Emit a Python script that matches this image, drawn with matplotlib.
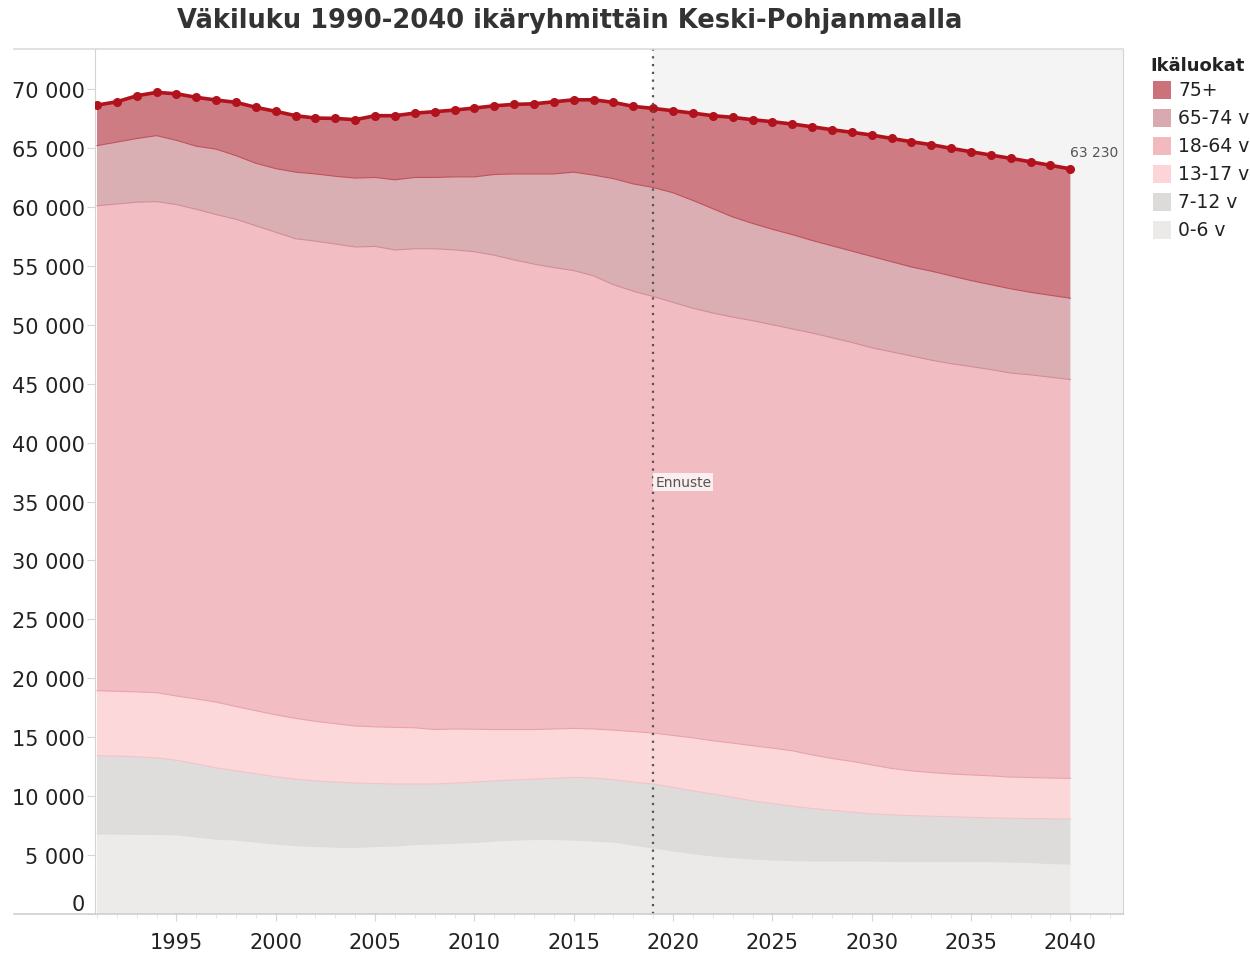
import matplotlib.pyplot as plt
import numpy as np
from matplotlib.patches import Rectangle
from matplotlib.lines import Line2D
from matplotlib.ticker import MultipleLocator

# data
years = list(range(1991, 2041))
age_0_6 = [6790, 6780, 6760, 6750, 6730, 6530, 6360, 6280, 6110, 5940,
           5810, 5730, 5680, 5640, 5730, 5770, 5900, 5940, 6020, 6070,
           6190, 6280, 6320, 6320, 6280, 6190, 6110, 5850, 5600, 5350,
           5130, 4920, 4790, 4670, 4580, 4540, 4500, 4500, 4500, 4500,
           4450, 4450, 4450, 4450, 4450, 4450, 4410, 4370, 4280, 4240]
age_7_12 = [6640, 6620, 6590, 6500, 6320, 6220, 6040, 5870, 5790, 5710,
            5640, 5570, 5520, 5480, 5340, 5260, 5130, 5090, 5080, 5130,
            5110, 5100, 5130, 5200, 5320, 5360, 5290, 5350, 5430, 5400,
            5320, 5260, 5110, 4930, 4800, 4610, 4450, 4300, 4150, 4000,
            3970, 3900, 3850, 3800, 3750, 3710, 3710, 3730, 3800, 3820]
age_13_17 = [5520, 5500, 5500, 5530, 5450, 5500, 5580, 5450, 5350, 5250,
             5150, 5050, 4950, 4830, 4810, 4810, 4770, 4620, 4600, 4480,
             4350, 4270, 4200, 4180, 4150, 4150, 4200, 4280, 4330, 4400,
             4500, 4520, 4600, 4680, 4700, 4700, 4550, 4400, 4300, 4150,
             3930, 3800, 3700, 3630, 3600, 3560, 3500, 3480, 3460, 3450]
age_18_64 = [41150, 41350, 41550, 41670, 41700, 41550, 41370, 41350, 41150, 40950,
             40700, 40750, 40700, 40650, 40770, 40510, 40650, 40800, 40650, 40520,
             40250, 39850, 39500, 39150, 38850, 38450, 37800, 37370, 37040, 36750,
             36450, 36300, 36150, 36070, 35920, 35800, 35800, 35700, 35550, 35400,
             35350, 35200, 35000, 34820, 34650, 34480, 34280, 34170, 34010, 33840]
age_65_74 = [5100, 5250, 5400, 5600, 5450, 5350, 5550, 5400, 5300, 5400,
             5650, 5700, 5750, 5850, 5850, 5950, 6050, 6050, 6200, 6350,
             6850, 7300, 7650, 7950, 8350, 8550, 9000, 9100, 9250, 9300,
             9150, 8850, 8500, 8250, 8100, 8000, 7850, 7800, 7750, 7750,
             7650, 7550, 7550, 7450, 7300, 7200, 7150, 7000, 6950, 6900]
age_75 = [3440, 3420, 3630, 3670, 3950, 4150, 4170, 4520, 4750, 4860,
          4790, 4740, 4910, 4950, 5240, 5440, 5460, 5580, 5670, 5840,
          5830, 5900, 5950, 6120, 6140, 6390, 6470, 6580, 6710, 6960,
          7410, 7890, 8450, 8800, 9130, 9380, 9650, 9850, 10080, 10300,
          10460, 10630, 10730, 10820, 10930, 11000, 11070, 11080, 11030, 10980]

labels = ['0-6 v', '7-12 v', '13-17 v', '18-64 v', '65-74 v', '75+']
fill_colors = ['#ebeae8', '#dcdbda', '#fdd5d9', '#f2b9bf', '#d8a9ae', '#cb727b']
edge_colors = ['#dddcda', '#f0c4c8', '#e8a2a9', '#cf8e95', '#c0505c']
forecast_year = 2019
y_ticks = list(range(0, 70001, 5000))

layers = [age_0_6, age_7_12, age_13_17, age_18_64, age_65_74, age_75]
cum = np.cumsum(np.array(layers), axis=0)
total = cum[-1]

def fmt(v):
    return f'{int(v):,}'.replace(',', ' ')

fig = plt.figure(figsize=(12.5, 9.54), dpi=100)
W, H = 1250, 954
ax = fig.add_axes([95 / W, 1 - 915 / H, (1123 - 95) / W, (915 - 50) / H])

xmax = 2042.65
ax.axvspan(forecast_year, xmax, color='#f4f4f4', zorder=0, lw=0)
ax.stackplot(years, *layers, colors=fill_colors, alpha=0.93, linewidth=0, zorder=1)
for i in range(5):
    ax.plot(years, cum[i], color=edge_colors[i], lw=0.8, zorder=2)

ax.plot(years, total, color='#b1121c', lw=2.6, marker='o', ms=5.5, zorder=4)
ax.annotate(fmt(total[-1]), (years[-1], total[-1]),
            xytext=(0, 7), textcoords='offset points', ha='left', va='bottom',
            fontsize=10, color='#555555')

ax.axvline(forecast_year, color='#555555', ls=(0, (1, 2.5)), lw=1.6, zorder=5)
ax.text(forecast_year + 0.1, 36650, 'Ennuste', fontsize=10, color='#555555',
        va='center', ha='left', zorder=6,
        bbox=dict(facecolor='white', alpha=0.75, edgecolor='none', pad=1.5))

ax.set_xlim(1990.9, xmax)
ax.set_ylim(0, 73400)
ax.set_yticks(y_ticks, [fmt(v) for v in y_ticks])
ax.xaxis.set_major_locator(MultipleLocator(5))
ax.xaxis.set_minor_locator(MultipleLocator(1))
ax.tick_params(axis='y', length=6, color='#d6d6d6', pad=1.5, labelsize=15, labelcolor='#222222')
ax.tick_params(axis='x', which='major', length=5, color='#d6d6d6', pad=8, labelsize=15, labelcolor='#222222')
ax.tick_params(axis='x', which='minor', length=3, color='#e2e2e2')
ax.yaxis.get_major_ticks()[0].label1.set_verticalalignment('bottom')

for side in ['left', 'right', 'top', 'bottom']:
    ax.spines[side].set_color('#d4d4d4')
ax.spines['top'].set_visible(False)
ax.spines['bottom'].set_visible(False)
# frame lines reaching under the y labels
fig.add_artist(Line2D([14 / W, 1123 / W], [1 - 50 / H, 1 - 50 / H], color='#dcdcdc', lw=1.2))
fig.add_artist(Line2D([14 / W, 1123 / W], [1 - 915 / H, 1 - 915 / H], color='#cfcfcf', lw=1.2))

fig.text(570 / W, 1 - 21 / H, 'Väkiluku 1990-2040 ikäryhmittäin Keski-Pohjanmaalla',
         ha='center', va='center', fontsize=18.5, fontweight='bold', color='#333333')

# legend
fig.text(1150 / W, 1 - 66 / H, 'Ikäluokat', ha='left', va='center',
         fontsize=13, fontweight='bold', color='#222222')
for k, (lab, col) in enumerate(zip(labels[::-1], fill_colors[::-1])):
    yc = 91 + k * 28
    fig.add_artist(Rectangle((1153 / W, 1 - (yc + 9) / H), 18 / W, 18 / H,
                             facecolor=col, edgecolor='none', transform=fig.transFigure))
    fig.text(1178 / W, 1 - yc / H, lab, ha='left', va='center', fontsize=13.5, color='#222222')

fig.savefig('out.png', dpi=100)
